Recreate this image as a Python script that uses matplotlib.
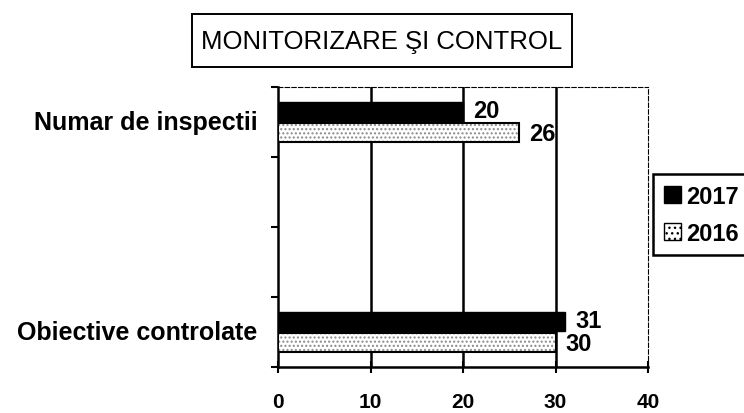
import matplotlib
matplotlib.use('Agg')

import matplotlib.pyplot as plt
from matplotlib.patches import Patch, Rectangle

plt.rcParams['font.family'] = ['Liberation Sans', 'DejaVu Sans']

categories = ["Numar de inspectii", "Obiective controlate"]
slots = [3.5, 0.5]          # category centres on a 4-slot axis (Excel style)
vals_2017 = [20, 31]
vals_2016 = [26, 30]
x_ticks = [0, 10, 20, 30, 40]

fig = plt.figure(figsize=(7.44, 4.14), dpi=100)
ax = fig.add_axes([278 / 744, 1 - 368 / 414, 370 / 744, 280 / 414])

h = 0.27
y17 = [s + h / 2 + 0.01 for s in slots]
y16 = [s - h / 2 - 0.01 for s in slots]

ax.barh(y17, vals_2017, height=h, color="black", edgecolor="black", zorder=3)
# stippled 2016 bars: hatch layer then outline
ax.barh(y16, vals_2016, height=h, color="white", edgecolor="#8a8a8a",
        hatch="....", linewidth=0, zorder=3)
ax.barh(y16, vals_2016, height=h, color="none", edgecolor="black",
        linewidth=1.5, zorder=4)

for y, v in zip(y17, vals_2017):
    ax.text(v + 1.1, y + 0.02, str(v), va="center", ha="left",
            fontsize=17, fontweight="bold")
for y, v in zip(y16, vals_2016):
    ax.text(v + 1.1, y - 0.02, str(v), va="center", ha="left",
            fontsize=17, fontweight="bold")

ax.set_xlim(0, 40)
ax.set_ylim(0, 4)
ax.set_xticks(x_ticks)
ax.set_xticklabels([str(t) for t in x_ticks], fontsize=15, fontweight="bold")
ax.set_yticks([0, 1, 2, 3, 4])
ax.set_yticklabels([])
ax.tick_params(axis="x", direction="inout", length=8, width=1.5, pad=14)
ax.tick_params(axis="y", direction="out", length=5, width=1.5)

for s, lab in zip(slots, categories):
    ax.text(-0.055, s, lab, transform=ax.get_yaxis_transform(),
            ha="right", va="center", fontsize=18, fontweight="bold")

for gx in [10, 20, 30]:
    ax.axvline(gx, color="black", linewidth=1.8, zorder=1)

ax.spines["left"].set_linewidth(1.8)
ax.spines["bottom"].set_linewidth(1.8)
ax.spines["top"].set_linestyle((0, (4, 2)))
ax.spines["top"].set_linewidth(0.8)
ax.spines["right"].set_linestyle((0, (4, 2)))
ax.spines["right"].set_linewidth(0.8)

# title with its box
fig.patches.append(Rectangle((192 / 744, 1 - 68 / 414), 380 / 744, 53 / 414,
                             transform=fig.transFigure, facecolor="white",
                             edgecolor="black", linewidth=1.4))
fig.text(382 / 744, 1 - 42 / 414, "MONITORIZARE ŞI CONTROL", ha="center",
         va="center", fontsize=18.5)

handles = [Patch(facecolor="black", edgecolor="black", label="2017"),
           Patch(facecolor="white", edgecolor="black", hatch="...", label="2016")]
leg = fig.legend(handles=handles, loc="upper left",
                 bbox_to_anchor=(653 / 744, 1 - 175 / 414),
                 prop={"size": 17, "weight": "bold"}, fancybox=False,
                 framealpha=1, edgecolor="black", handlelength=0.75,
                 handleheight=0.75, handletextpad=0.2, borderpad=0.45,
                 labelspacing=0.6, borderaxespad=0)
leg.get_frame().set_linewidth(1.8)

plt.savefig("out.png", dpi=100)
plt.close()
